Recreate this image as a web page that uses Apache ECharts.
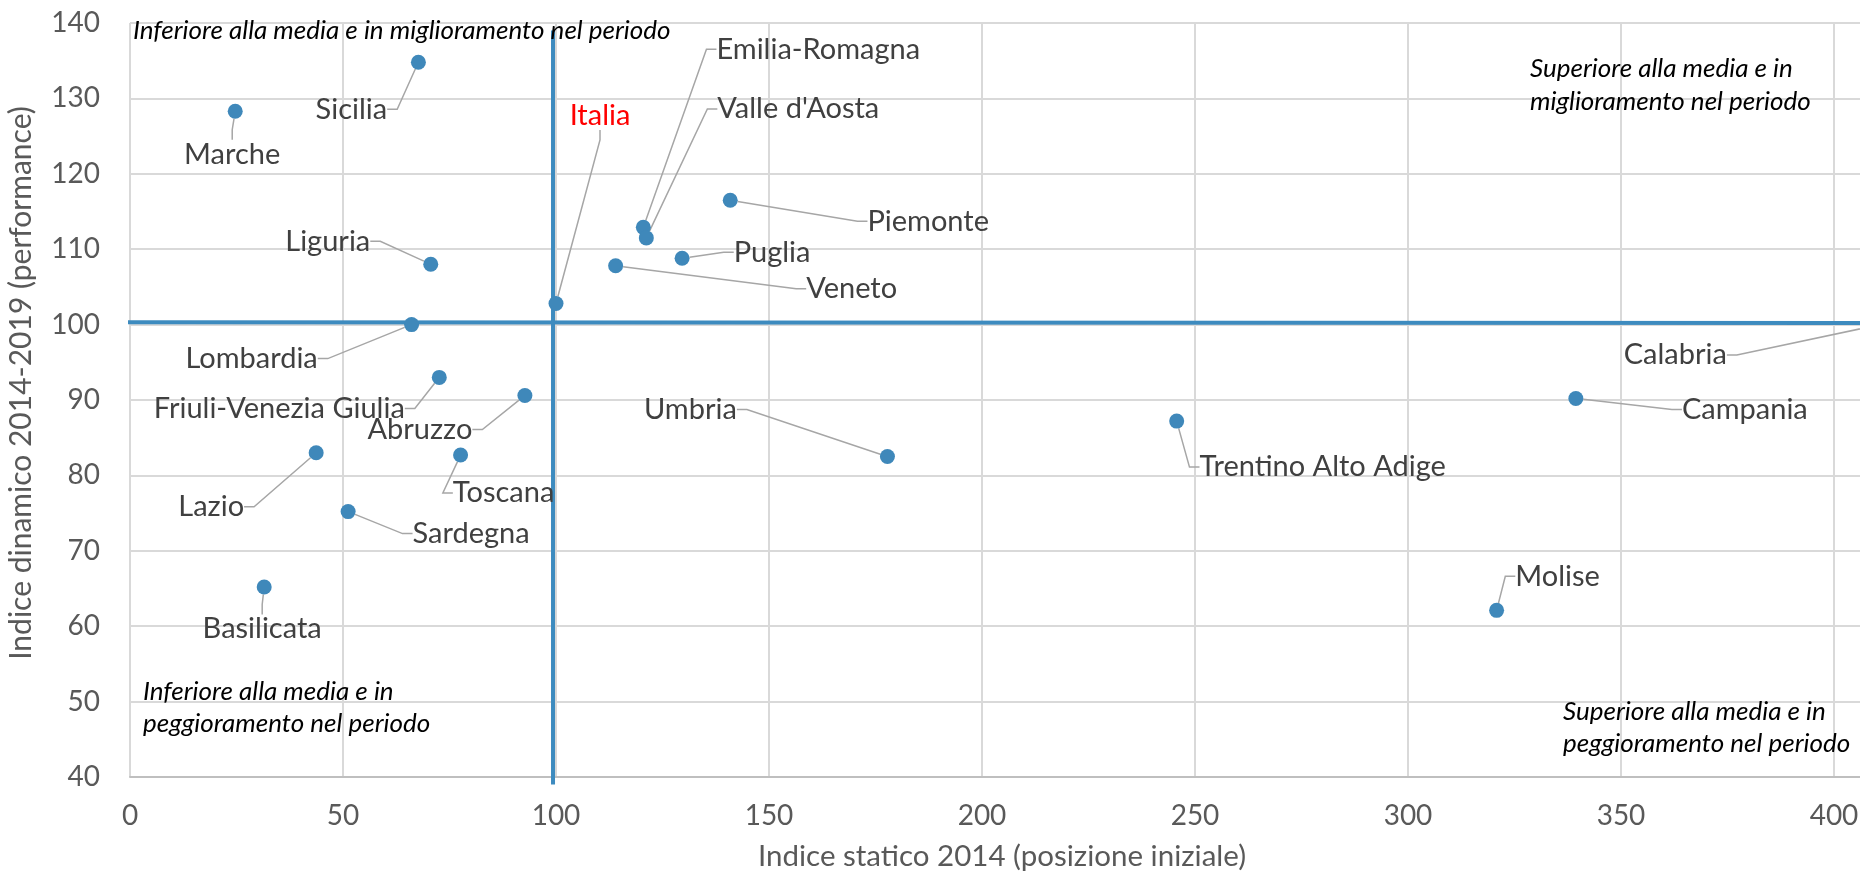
<!DOCTYPE html>
<html>
<head>
<meta charset="utf-8">
<script src="https://cdn.jsdelivr.net/npm/echarts@6/dist/echarts.min.js"></script>
<style>
html,body{margin:0;padding:0;background:#fff;}
#chart{width:1860px;height:872px;}
</style>
</head>
<body>
<div id="chart"></div>
<script>
// ---- data ----
const regions = ["Sicilia","Marche","Liguria","Lombardia","Friuli-Venezia Giulia","Abruzzo","Italia",
  "Emilia-Romagna","Valle d'Aosta","Piemonte","Puglia","Veneto","Umbria","Trentino Alto Adige",
  "Campania","Calabria","Lazio","Toscana","Sardegna","Basilicata","Molise"];
const staticIndex = [67.7,24.7,70.6,66.1,72.6,92.7,100.0,120.5,121.2,140.9,129.6,114.0,177.8,245.7,339.4,412.5,43.7,77.6,51.2,31.5,320.8];
const dynamicIndex = [134.8,128.3,108.0,100.0,93.0,90.6,102.8,112.9,111.5,116.5,108.8,107.8,82.5,87.2,90.2,100.2,83.0,82.7,75.2,65.2,62.1];
const xTicks = [0,50,100,150,200,250,300,350,400,450];
const yTicks = [40,50,60,70,80,90,100,110,120,130,140];
const verticalRef = [[99.3,39],[99.3,139]];
const horizontalRef = [[-1,100.3],[460,100.2]];

// ---- label offsets (px, label centre relative to point) ----
const labelOffsets = [
  [-67,47],[-3,43],[-103,-23],[-160,34],[-160,31],[-105,34],[44,-188],
  [175,-178],[152,-129],[198,21],[90,-6],[236,23],[-197,-47],[146,46],
  [169,11],[-212,32],[-105,54],[43,38],[123,22],[-2,42],[61,-34]
];

const FONT = 'Lato';
const chart = echarts.init(document.getElementById('chart'));
const pts = regions.map((r,i)=>{
  const d = {name:r, value:[staticIndex[i], dynamicIndex[i]]};
  if (r === 'Italia') d.label = {color:'#ff0000'};
  return d;
});

chart.setOption({
  animation:false,
  textStyle:{fontFamily:FONT},
  grid:{left:130, right:-187, top:23, bottom:95, containLabel:false, outerBoundsMode:'none'},
  xAxis:{type:'value', min:xTicks[0], max:xTicks[xTicks.length-1], interval:50,
    axisLine:{show:true, lineStyle:{color:'#bfbfbf', width:2}},
    axisTick:{show:false},
    axisLabel:{color:'#595959', fontSize:28, fontFamily:FONT, margin:25},
    splitLine:{show:true, lineStyle:{color:'#d9d9d9', width:2}}
  },
  yAxis:{type:'value', min:yTicks[0], max:yTicks[yTicks.length-1], interval:10,
    axisLine:{show:false}, axisTick:{show:false},
    axisLabel:{color:'#595959', fontSize:28, fontFamily:FONT, margin:30},
    splitLine:{show:true, lineStyle:{color:'#d9d9d9', width:2}}
  },
  series:[
    {type:'line', data:verticalRef, symbol:'none', clip:false, silent:true,
      lineStyle:{color:'#3d8bbf', width:4}, z:3},
    {type:'line', data:horizontalRef, symbol:'none', clip:false, silent:true,
      lineStyle:{color:'#3d8bbf', width:4}, z:3},
    {type:'scatter', data:pts, symbolSize:15, clip:false,
      itemStyle:{color:'#3f88ba', opacity:1}, z:5,
      label:{show:true, position:'inside', formatter:'{b}', color:'#404040',
        fontSize:29, fontFamily:FONT},
      labelLine:{show:true, length2:10, lineStyle:{color:'#a6a6a6', width:1.5}},
      labelLayout:function(p){ const o = labelOffsets[p.dataIndex]; return {dx:o[0], dy:o[1]}; }
    }
  ],
  graphic:[
    {type:'text', left:133, top:18, z:10,
      style:{text:'Inferiore alla media e in miglioramento nel periodo', font:'italic 26px Lato', fill:'#000'}},
    {type:'text', left:1530, top:52, z:10,
      style:{text:'Superiore alla media e in\nmiglioramento nel periodo', font:'italic 26px Lato', fill:'#000', lineHeight:33}},
    {type:'text', left:143, top:676, z:10,
      style:{text:'Inferiore alla media e in\npeggioramento nel periodo', font:'italic 26px Lato', fill:'#000', lineHeight:32}},
    {type:'text', left:1563, top:696, z:10,
      style:{text:'Superiore alla media e in\npeggioramento nel periodo', font:'italic 26px Lato', fill:'#000', lineHeight:32}},
    {type:'text', x:1002, y:856, z:10,
      style:{text:'Indice statico 2014 (posizione iniziale)', font:'29.5px Lato', fill:'#595959', align:'center', verticalAlign:'middle'}},
    {type:'text', x:21, y:383, rotation:Math.PI/2, z:10,
      style:{text:'Indice dinamico 2014-2019 (performance)', font:'30px Lato', fill:'#595959', align:'center', verticalAlign:'middle'}}
  ]
});
</script>
</body>
</html>
